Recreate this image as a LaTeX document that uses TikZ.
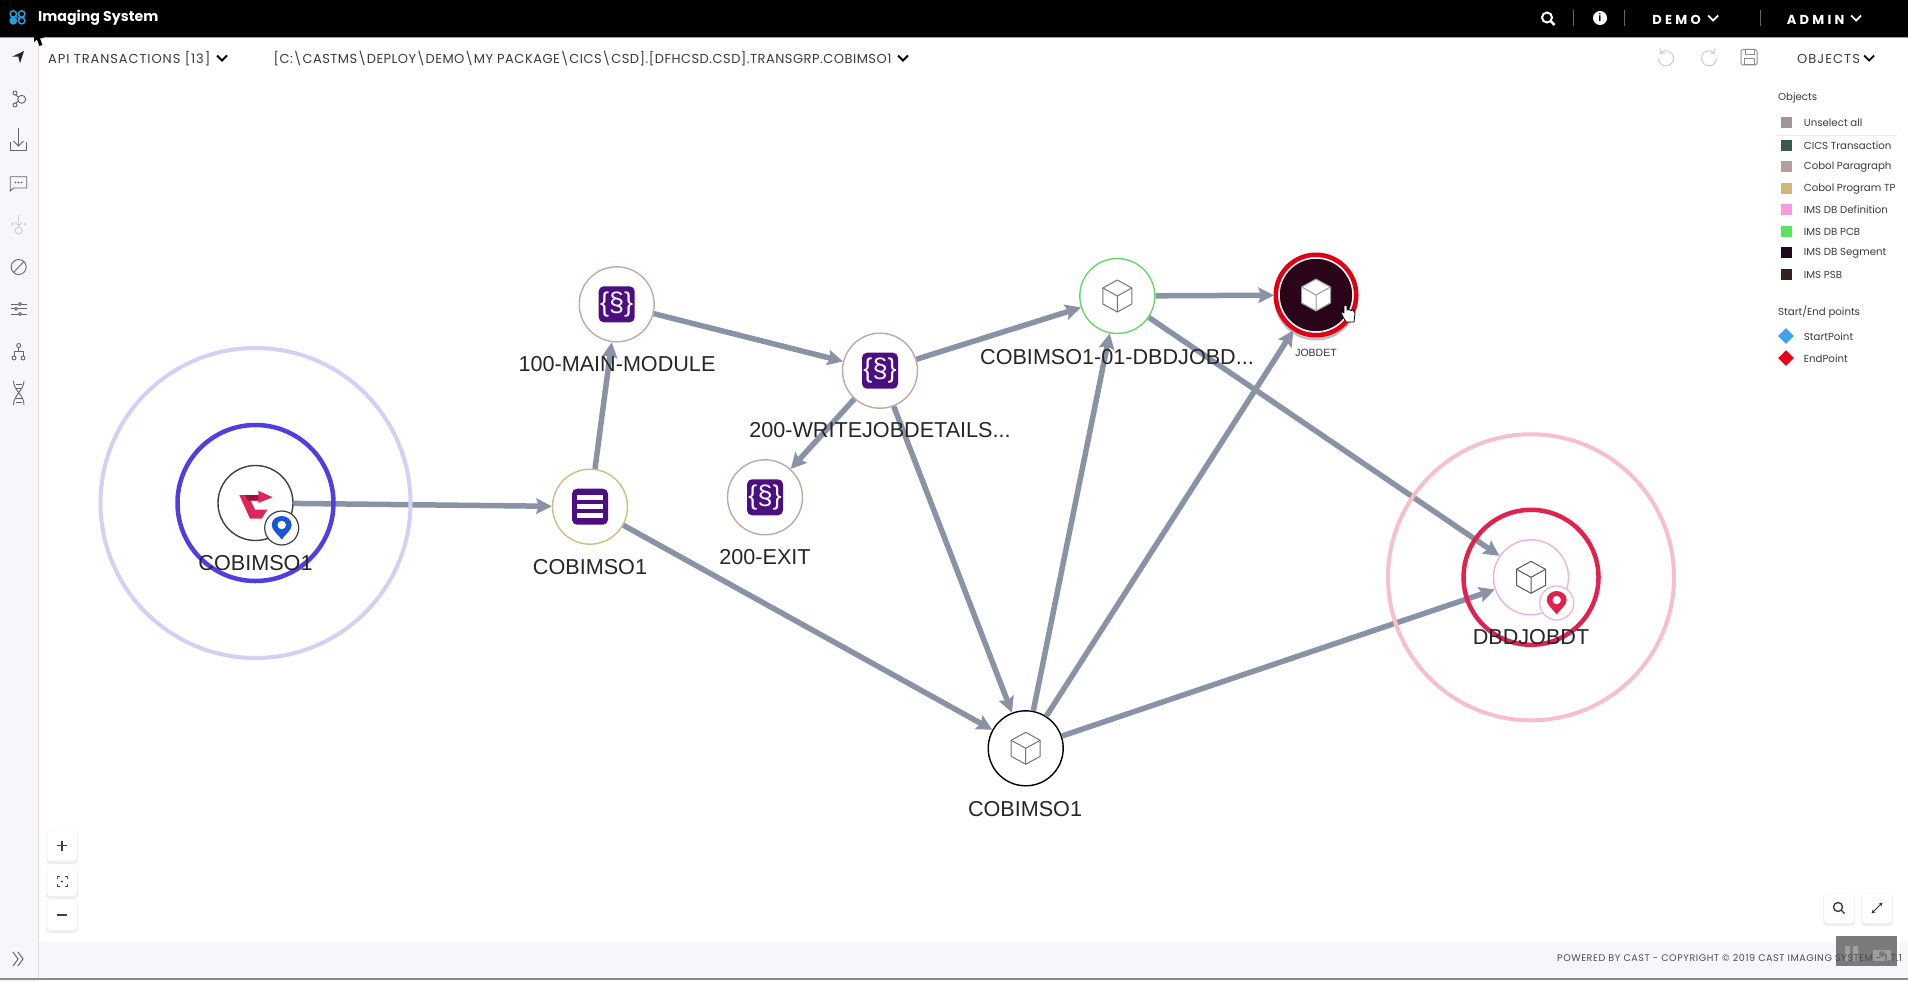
\documentclass[tikz,border=0pt]{standalone}
\usepackage{fontspec}
\usepackage{xcolor}
\usepackage{tikz}
\usetikzlibrary{arrows.meta}
\usetikzlibrary{shadows}
\setmainfont{Liberation Sans}
\newfontfamily\uifont{Poppins}
\def\pagew{1908}
\def\pageh{982}
\definecolor{edgegray}{HTML}{8A93A6}
\definecolor{sidegray}{HTML}{F8F6FA}
\definecolor{purplebox}{HTML}{4B0F82}
\definecolor{startblue}{HTML}{4F3FE0}
\definecolor{startpale}{HTML}{D4CFF6}
\definecolor{endred}{HTML}{E0234E}
\definecolor{endpale}{HTML}{F7BFCD}
\definecolor{uitext}{HTML}{3A3A3A}
\definecolor{parabrown}{HTML}{C0A8A4}
\definecolor{progtan}{HTML}{D4BA80}
\definecolor{pcbgreen}{HTML}{66D866}
\definecolor{defpink}{HTML}{EDB0E0}
\definecolor{jobdark}{HTML}{2A0418}
\definecolor{jobred}{HTML}{E00016}
\definecolor{logored}{HTML}{DC2859}
\definecolor{logodark}{HTML}{A0123D}
\definecolor{pinblue}{HTML}{1557D8}
\definecolor{startdiamond}{HTML}{42A0F0}
\definecolor{enddiamond}{HTML}{E40016}
\definecolor{appcyan}{HTML}{2E9BD6}
\tikzset{
	objnode/.style={circle, fill=white, inner sep=0, minimum size=75pt, line width=1.4pt, draw=#1},
	objlabel/.style={font=\fontsize{21.6}{24}\selectfont, text=black!85, inner sep=0},
	link/.style={-{Stealth[length=15.5pt, width=15.5pt, inset=2.5pt]}, color=edgegray, line width=5.5pt},
	ring/.style={circle, inner sep=0, minimum size=#1},
	iconbox/.style={rounded corners=5pt, fill=purplebox, minimum size=36pt, inner sep=0, text=white, font=\fontsize{27}{27}\selectfont},
	badge/.style={circle, fill=white, inner sep=0, minimum size=34pt, line width=1.2pt, draw=#1},
	uilabel/.style 2 args={font=\uifont\addfontfeature{LetterSpace=#2}\fontsize{#1}{#1}\selectfont, text=uitext, inner sep=0, anchor=west},
	legendlabel/.style={uilabel={10.2}{0}, yshift=-1pt},
	legendbox/.style={minimum size=11pt, inner sep=0, fill=#1},
	sidebtn/.style={rounded corners=3pt, fill=white, draw=black!5, minimum size=30pt, inner sep=0, drop shadow={shadow xshift=0pt, shadow yshift=-2pt, shadow scale=1.05, opacity=.13}},
	sideicon/.style={line width=.9pt, color=black!60},
	pics/cubemark/.style={code={
		\draw[line width=1pt, line join=round, #1] (0,-16)--(14.5,-8)--(14.5,8)--(0,16)--(-14.5,8)--(-14.5,-8)--cycle;
		\draw[line width=1pt, #1, fill=none] (-14.5,-8)--(0,0)--(14.5,-8) (0,0)--(0,16);
	}},
	pics/pinmark/.style={code={
		\fill[#1] (0,11.5) .. controls (-4,6) and (-10,2) .. (-10,-3) .. controls (-10,-8.5) and (-5,-12) .. (0,-12) .. controls (5,-12) and (10,-8.5) .. (10,-3) .. controls (10,2) and (4,6) .. (0,11.5);
		\fill[white] (0,-3) circle (4.2pt);
	}},
	pics/chevmark/.style={code={
		\draw[#1, line width=1.8pt] (-5,-2.5)--(0,2.5)--(5,-2.5);
	}}
}

\begin{document}
\begin{tikzpicture}[x=1pt, y=-1pt]
	\useasboundingbox (0,0) rectangle (\pagew,\pageh);
	\fill[white] (0,0) rectangle (\pagew,\pageh);
	% frame of the page
	\fill[sidegray] (0,37) rectangle (38,\pageh);
	\fill[sidegray] (38,942) rectangle (\pagew,978);
	\draw[black!12, line width=1pt] (38,37)--(38,978);
	\fill[black!45] (0,978) rectangle (\pagew,980);
	\fill[black] (0,0) rectangle (\pagew,37);
	\fill[black!40] (0,37) rectangle (\pagew,38);

	% objects
	\node[objnode=black!75] (start) at (255.5,503) {};
	\node[objnode=progtan] (program) at (590,506.7) {};
	\node[objnode=parabrown] (mainmod) at (616.7,304.3) {};
	\node[objnode=parabrown] (writejob) at (880,370.7) {};
	\node[objnode=parabrown] (exitpar) at (765,497.3) {};
	\node[objnode=pcbgreen] (pcb) at (1117.3,296) {};
	\node[objnode=black] (segment) at (1025.7,748.3) {};
	\node[objnode=defpink] (dbddef) at (1531,577.3) {};
	\node[ring=84pt, fill=black!25] (jobshadow) at (1316,298.5) {};
	\node[ring=74pt, fill=jobdark, draw=white, line width=1.5pt, outer sep=5pt] (jobdet) at (1316,295) {};
	\node[ring=80.5pt, draw=jobred, line width=4.5pt] (jobring) at (jobdet) {};

	% links
	\draw[link] (start)--(program);
	\draw[link] (program)--(mainmod);
	\draw[link] (mainmod)--(writejob);
	\draw[link] (writejob)--(exitpar);
	\draw[link] (writejob)--(pcb);
	\draw[link] (writejob)--(segment);
	\draw[link] (pcb)--(jobdet);
	\draw[link] (pcb)--(dbddef);
	\draw[link] (program)--(segment);
	\draw[link] (segment)--(pcb);
	\draw[link] (segment)--(jobdet);
	\draw[link] (segment)--(dbddef);

	% rings of the start and end points
	\node[ring=156pt, draw=startblue, line width=4.5pt] (startmid) at (start) {};
	\node[ring=310pt, draw=startpale, line width=4pt] (startouter) at (start) {};
	\node[ring=135pt, draw=endred, line width=4.5pt] (endmid) at (dbddef) {};
	\node[ring=286pt, draw=endpale, line width=4pt] (endouter) at (dbddef) {};

	% icons in the objects
	\fill[logored] (239.3,495)--(258.3,495)--(258.3,490.7)--(272.7,497.3)--(258.3,503)--(258.3,500.7)--(250.7,500.7)--(255,509.7)--(267.3,509.7)--(261.7,518.7)--(250,518.7)--cycle;
	\fill[logodark] (245,495)--(258.3,495)--(258.3,500.7)--(248,500.7)--cycle;
	\node[badge=black!75] (startbadge) at (281.7,528) {};
	\pic at (startbadge) {pinmark=pinblue};
	\node[badge=defpink] (endbadge) at (1556.7,603) {};
	\pic at (endbadge) {pinmark=endred};

	\node[iconbox] (mainicon) at (mainmod) {\{§\}};
	\node[iconbox] (writeicon) at (writejob) {\{§\}};
	\node[iconbox] (exiticon) at (exitpar) {\{§\}};
	\node[iconbox] (programicon) at (program) {};
	\foreach \dy in {-9,0,9}{
		\fill[white] ([shift={(-13,\dy-2.3)}]program.center) rectangle ([shift={(13,\dy+2.3)}]program.center);
	}
	\pic at (pcb) {cubemark={draw=black!55}};
	\pic at (segment) {cubemark={draw=black!55}};
	\pic at (dbddef) {cubemark={draw=black!65}};
	\pic at (jobdet) {cubemark={draw=black!40, fill=white}};

	% labels
	\node[objlabel] (startlbl) at (255.5,563) {COBIMSO1};
	\node[objlabel] (programlbl) at (590,567) {COBIMSO1};
	\node[objlabel] (mainlbl) at (617,364.5) {100-MAIN-MODULE};
	\node[objlabel] (writelbl) at (880,430) {200-WRITEJOBDETAILS...};
	\node[objlabel] (exitlbl) at (765,557) {200-EXIT};
	\node[objlabel] (pcblbl) at (1117,357) {COBIMSO1-01-DBDJOBD...};
	\node[objlabel] (segmentlbl) at (1025,809) {COBIMSO1};
	\node[objlabel] (dbdlbl) at (1531,637) {DBDJOBDT};
	\node[inner sep=0, font=\fontsize{10.5}{12}\selectfont, text=black!80] (joblbl) at (1316,353) {JOBDET};

	% top bar
	\draw[appcyan, line width=1.5pt] (13.3,14) circle (3.2pt) (21.7,14) circle (3.2pt) (21.7,20.7) circle (3.2pt);
	\fill[appcyan] (13.3,20.7) circle (4pt);
	\draw[appcyan, line width=1.2pt] (16,16.5)--(19,18.5);
	\node[font=\uifont\bfseries\fontsize{14.2}{15}\selectfont, text=white, inner sep=0, anchor=west] (apptitle) at (38,18) {Imaging System};
	\draw[white, line width=2pt] (1547,17.5) circle (5pt);
	\draw[white, line width=2.5pt] (1551,21.5)--(1554.5,25);
	\foreach \sx in {1573,1624.5,1760}{
		\draw[black!60!white, line width=.8pt] (\sx,10)--(\sx,26);
	}
	\fill[white] (1600,18) circle (7pt);
	\node[font=\bfseries\fontsize{11}{11}\selectfont, inner sep=0] (infoi) at (1600,18) {i};
	\node[font=\uifont\bfseries\addfontfeature{LetterSpace=25}\fontsize{13}{13}\selectfont, text=white, inner sep=0] (demolbl) at (1676.6,19.5) {DEMO};
	\pic at (1713,18) {chevmark=white};
	\node[font=\uifont\bfseries\addfontfeature{LetterSpace=25}\fontsize{13}{13}\selectfont, text=white, inner sep=0] (adminlbl) at (1815.6,19.5) {ADMIN};
	\pic at (1856,18) {chevmark=white};

	% second row
	\node[uilabel={13}{7}] (apilbl) at (48,59) {API TRANSACTIONS [13]};
	\pic at (222,58) {chevmark=black};
	\node[uilabel={13}{3.8}] (pathlbl) at (273.5,59) {[C:\textbackslash CASTMS\textbackslash DEPLOY\textbackslash DEMO\textbackslash MY PACKAGE\textbackslash CICS\textbackslash CSD].[DFHCSD.CSD].TRANSGRP.COBIMSO1};
	\pic at (903,58) {chevmark=black};
	\node[uilabel={13}{8}] (objectslbl) at (1797,59) {OBJECTS};
	\pic at (1869,58) {chevmark=black};
	\draw[black!20, line width=1pt] (1660.7,53) arc (135:-180:7.5pt);
	\draw[black!20, line width=1pt] (1660,48.5)--(1660.5,53.3)--(1665.5,53);
	\draw[black!20, line width=1pt] (1714.3,53) arc (45:360:7.5pt);
	\draw[black!20, line width=1pt] (1715,48.5)--(1714.5,53.3)--(1709.5,53);
	\draw[black!45, line width=1pt, rounded corners=1.5pt] (1741,49.5) rectangle (1757,65);
	\draw[black!45, line width=1pt] (1745,49.5) rectangle (1754,55) (1744,65) rectangle (1754,58.5);

	% legend
	\node[legendlabel] (objectshead) at (1778,97) {Objects};
	\draw[black!8, line width=1pt] (1777,135)--(1897,135);
	\foreach \swatch/\txt/\ly [count=\li] in {
		9E9698/Unselect all/122,
		3E5650/CICS Transaction/145,
		B49F9C/Cobol Paragraph/166,
		CFB778/Cobol Program TP/188,
		F79ADF/IMS DB Definition/209,
		5BE25B/IMS DB PCB/231,
		1E0A18/IMS DB Segment/252,
		34221E/IMS PSB/274}{
		\definecolor{swatchcol}{HTML}{\swatch}
		\node[legendbox=swatchcol] (swatch\li) at (1786,\ly) {};
		\node[legendlabel] (swatchlbl\li) at (1803.7,\ly) {\txt};
	}
	\node[legendlabel] (pointshead) at (1778,311) {Start/End points};
	\node[minimum size=11pt, inner sep=0, rotate=45, fill=startdiamond] (startswatch) at (1786,336) {};
	\node[minimum size=11pt, inner sep=0, rotate=45, fill=enddiamond] (endswatch) at (1786,358) {};
	\node[legendlabel] (startptlbl) at (1803.7,336) {StartPoint};
	\node[legendlabel] (endptlbl) at (1803.7,358) {EndPoint};

	% side bar
	\fill[black!85] (24,51)--(20,63.3)--(18.3,56.7)--(12,56.7)--cycle;
	\draw[sideicon] (15,93) circle (2pt) (21.7,99.3) circle (4pt) (15,105) circle (2pt);
	\draw[sideicon] (15.5,95)--(18.5,97) (15.5,103)--(18.5,101);
	\draw[sideicon] (18.5,128)--(18.5,146) (13.5,141)--(18.5,146)--(23.5,141);
	\draw[sideicon] (10.7,141.7)--(10.7,150)--(26.7,150)--(26.7,141.7);
	\draw[sideicon] (10.2,191)--(10.2,176.7)--(26.7,176.7)--(26.7,188)--(13.5,188)--cycle;
	\fill[black!70] (15.5,182.5) circle (.9pt) (18.5,182.5) circle (.9pt) (21.5,182.5) circle (.9pt);
	\draw[black!18, line width=1pt] (18.7,215)--(18.7,226) (15,222)--(18.7,226)--(22.4,222) (18.7,230.5) circle (3.5pt);
	\fill[black!18] (12.7,224) circle (1.5pt) (25,224) circle (1.5pt);
	\draw[sideicon] (18.7,267) circle (7.5pt) (13.5,272.5)--(24,261.5);
	\draw[sideicon] (10.7,304)--(26.7,304) (10.7,308.7)--(26.7,308.7) (10.7,314)--(26.7,314);
	\draw[sideicon, fill=sidegray] (20,304) circle (1.5pt) (16,308.7) circle (1.5pt) (20,314) circle (1.5pt);
	\draw[sideicon, fill=sidegray] (18.7,345.5) circle (2pt) (14,358) circle (2pt) (23,358) circle (2pt);
	\draw[sideicon] (18.7,347.5)--(18.7,351.5) (14,356)--(14,351.5)--(23,351.5)--(23,356);
	\draw[sideicon] (13.5,381) .. controls (13.5,390) and (24,395) .. (24,405) (24,381) .. controls (24,390) and (13.5,395) .. (13.5,405);
	\draw[sideicon] (16,384.5)--(21.5,384.5) (16,388)--(21.5,388) (16,398.5)--(21.5,398.5) (16,402)--(21.5,402);
	\draw[black!60, line width=1pt] (13,952)--(18,959)--(13,966) (18,952)--(23,959)--(18,966);

	% buttons
	\node[sidebtn] (zoomin) at (62,846) {};
	\node[sidebtn] (zoomfit) at (62,881) {};
	\node[sidebtn] (zoomout) at (62,915) {};
	\draw[black!75, line width=1.2pt] (57,845.5)--(67,845.5) (62,840.5)--(62,850.5);
	\draw[black!75, line width=1.2pt] (57,915)--(67,915);
	\draw[black!70, line width=1pt] (57,879)--(57,876.5)--(59.5,876.5) (64.5,876.5)--(67,876.5)--(67,879) (67,884)--(67,886.5)--(64.5,886.5) (59.5,886.5)--(57,886.5)--(57,884);
	\fill[black!75] (62,881.5) circle (1.2pt);
	\node[sidebtn] (findbtn) at (1839,908) {};
	\node[sidebtn] (expandbtn) at (1877,908) {};
	\draw[black!80, line width=1.3pt] (1838,907) circle (4.5pt) (1841.3,910.3)--(1844.5,913.5);
	\draw[black!80, line width=1pt, {Stealth[length=4pt, width=4pt]}-{Stealth[length=4pt, width=4pt]}] (1871.5,913.5)--(1882.5,902.5);

	% footer, the grey video mark lies under its text
	\fill[black!52] (1836,936) rectangle (1897,966);
	\fill[black!38] (1845,946) rectangle (1850,961) (1853,946) rectangle (1858,961);
	\fill[black!38] (1873,950) rectangle (1891,961);
	\fill[black!52] (1882,954) circle (3pt);
	\node[uilabel={9.6}{5.5}, text=black!70] (footerlbl) at (1557,958) {POWERED BY CAST - COPYRIGHT © 2019 CAST IMAGING SYSTEM - 1.7.1};

	% cursors
	\fill[black] (34,30)--(34,42)--(37,39.5)--(39.5,46)--(42.5,45)--(40,38.5)--(44,38)--cycle;
	\draw[black, fill=white, line width=.8pt, line join=round] (1344,306)--(1344,313)--(1341.5,311)--(1342,315)--(1346,322)--(1354,322)--(1355,313)--(1353,310)--(1351,310.5)--(1349,309.5)--(1347,310)--(1347,306) .. controls (1347,304.5) and (1344,304.5) .. (1344,306);
\end{tikzpicture}
\end{document}
